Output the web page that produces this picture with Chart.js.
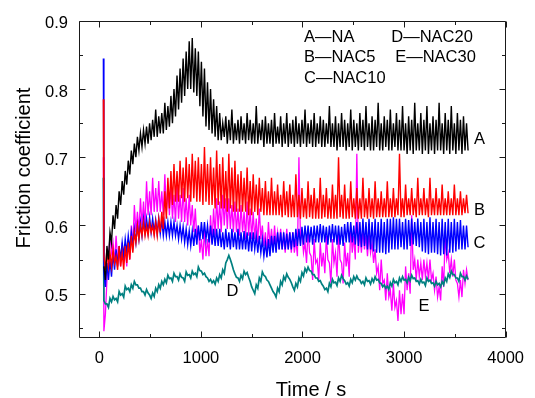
<!DOCTYPE html>
<html><head><meta charset="utf-8">
<script src="https://cdn.jsdelivr.net/npm/chart.js@4"></script>
<style>html,body{margin:0;padding:0;background:#fff}</style>
</head><body>
<canvas id="c" width="535" height="398"></canvas>
<script>
// ---- data ----
const SERIES_NAMES = ['A', 'B', 'C', 'D', 'E'];
const LEGEND_TEXT = ['A\u2014NA', 'B\u2014NAC5', 'C\u2014NAC10', 'D\u2014NAC20', 'E\u2014NAC30'];
const START_T = 40;
const START_PEAK = [null, 0.785, 0.845, 0.67, 0.70];
const TIME = [
 45,60,75,90,105,120,135,150,165,180,195,210,225,240,255,270,285,300,315,330,
 345,360,375,390,405,420,435,450,465,480,495,510,525,540,555,570,585,600,615,630,
 645,660,675,690,705,720,735,750,765,780,795,810,825,840,855,870,885,900,915,930,
 945,960,975,990,1005,1020,1035,1050,1065,1080,1095,1110,1125,1140,1155,1170,1185,1200,1215,1230,
 1245,1260,1275,1290,1305,1320,1335,1350,1365,1380,1395,1410,1425,1440,1455,1470,1485,1500,1515,1530,
 1545,1560,1575,1590,1605,1620,1635,1650,1665,1680,1695,1710,1725,1740,1755,1770,1785,1800,1815,1830,
 1845,1860,1875,1890,1905,1920,1935,1950,1965,1980,1995,2010,2025,2040,2055,2070,2085,2100,2115,2130,
 2145,2160,2175,2190,2205,2220,2235,2250,2265,2280,2295,2310,2325,2340,2355,2370,2385,2400,2415,2430,
 2445,2460,2475,2490,2505,2520,2535,2550,2565,2580,2595,2610,2625,2640,2655,2670,2685,2700,2715,2730,
 2745,2760,2775,2790,2805,2820,2835,2850,2865,2880,2895,2910,2925,2940,2955,2970,2985,3000,3015,3030,
 3045,3060,3075,3090,3105,3120,3135,3150,3165,3180,3195,3210,3225,3240,3255,3270,3285,3300,3315,3330,
 3345,3360,3375,3390,3405,3420,3435,3450,3465,3480,3495,3510,3525,3540,3555,3570,3585,3600,3615,3630];
const A_NA = [
 0.54,0.52,0.57,0.55,0.59,0.575,0.615,0.595,0.63,0.61,0.65,0.63,0.665,0.645,0.68,0.66,0.695,0.675,0.71,0.69,
 0.72,0.70,0.73,0.71,0.735,0.715,0.74,0.72,0.745,0.72,0.75,0.725,0.755,0.73,0.77,0.73,0.76,0.735,0.765,0.735,
 0.78,0.74,0.775,0.745,0.79,0.75,0.80,0.76,0.82,0.77,0.83,0.78,0.845,0.79,0.855,0.80,0.87,0.80,0.875,0.795,
 0.86,0.79,0.855,0.775,0.84,0.76,0.83,0.745,0.81,0.74,0.80,0.735,0.785,0.73,0.775,0.725,0.765,0.725,0.75,0.73,
 0.76,0.72,0.755,0.725,0.77,0.72,0.75,0.725,0.755,0.72,0.76,0.725,0.75,0.72,0.765,0.725,0.755,0.72,0.75,0.72,
 0.775,0.72,0.75,0.725,0.755,0.715,0.76,0.72,0.75,0.72,0.755,0.715,0.765,0.72,0.745,0.72,0.76,0.715,0.75,0.72,
 0.765,0.715,0.75,0.72,0.755,0.715,0.76,0.72,0.75,0.715,0.755,0.72,0.77,0.715,0.75,0.72,0.755,0.715,0.765,0.715,
 0.75,0.72,0.76,0.715,0.755,0.715,0.75,0.72,0.775,0.715,0.75,0.715,0.76,0.71,0.75,0.715,0.765,0.715,0.755,0.71,
 0.75,0.715,0.77,0.71,0.755,0.715,0.75,0.71,0.765,0.715,0.755,0.71,0.775,0.715,0.75,0.71,0.76,0.71,0.755,0.715,
 0.78,0.71,0.75,0.71,0.76,0.715,0.755,0.71,0.77,0.71,0.75,0.715,0.765,0.71,0.755,0.71,0.775,0.71,0.75,0.705,
 0.76,0.71,0.755,0.705,0.78,0.71,0.75,0.71,0.765,0.705,0.755,0.71,0.775,0.705,0.75,0.71,0.76,0.705,0.755,0.71,
 0.78,0.71,0.75,0.705,0.765,0.71,0.755,0.705,0.775,0.71,0.75,0.705,0.765,0.71,0.755,0.705,0.76,0.71,0.75,0.71];
const B_NAC5 = [
 0.555,0.535,0.565,0.54,0.56,0.54,0.565,0.545,0.555,0.535,0.57,0.54,0.56,0.535,0.57,0.545,0.575,0.55,0.585,0.56,
 0.59,0.575,0.60,0.58,0.60,0.585,0.605,0.585,0.60,0.585,0.605,0.59,0.60,0.585,0.605,0.585,0.61,0.59,0.62,0.595,
 0.65,0.61,0.67,0.625,0.68,0.63,0.69,0.635,0.68,0.635,0.695,0.64,0.685,0.635,0.70,0.64,0.69,0.635,0.705,0.64,
 0.695,0.635,0.70,0.635,0.69,0.63,0.715,0.635,0.69,0.63,0.70,0.63,0.685,0.625,0.71,0.63,0.69,0.625,0.70,0.625,
 0.68,0.62,0.705,0.625,0.685,0.62,0.695,0.62,0.675,0.62,0.68,0.62,0.67,0.62,0.685,0.615,0.665,0.615,0.675,0.62,
 0.66,0.615,0.67,0.62,0.655,0.615,0.665,0.615,0.65,0.615,0.67,0.615,0.65,0.615,0.66,0.615,0.645,0.612,0.665,0.615,
 0.65,0.612,0.66,0.612,0.645,0.612,0.675,0.612,0.645,0.61,0.655,0.612,0.64,0.61,0.665,0.612,0.645,0.61,0.655,0.61,
 0.64,0.61,0.67,0.61,0.645,0.612,0.655,0.61,0.64,0.61,0.66,0.61,0.645,0.61,0.70,0.612,0.645,0.61,0.66,0.61,
 0.64,0.61,0.665,0.612,0.64,0.61,0.655,0.61,0.64,0.61,0.67,0.612,0.64,0.61,0.655,0.612,0.64,0.61,0.665,0.612,
 0.64,0.612,0.65,0.612,0.64,0.612,0.665,0.612,0.64,0.612,0.655,0.612,0.64,0.615,0.705,0.612,0.64,0.612,0.66,0.615,
 0.64,0.615,0.655,0.615,0.64,0.612,0.67,0.615,0.64,0.615,0.655,0.615,0.64,0.612,0.67,0.615,0.64,0.615,0.655,0.615,
 0.64,0.615,0.66,0.615,0.64,0.615,0.65,0.615,0.64,0.615,0.66,0.615,0.64,0.615,0.65,0.615,0.64,0.618,0.645,0.618];
const C_NAC10 = [
 0.53,0.51,0.545,0.52,0.55,0.525,0.56,0.535,0.565,0.54,0.57,0.55,0.575,0.555,0.58,0.56,0.585,0.565,0.59,0.57,
 0.595,0.575,0.60,0.58,0.605,0.585,0.61,0.59,0.61,0.59,0.612,0.59,0.61,0.59,0.608,0.588,0.61,0.588,0.608,0.585,
 0.605,0.585,0.605,0.585,0.605,0.585,0.605,0.585,0.60,0.58,0.60,0.58,0.598,0.575,0.595,0.572,0.592,0.57,0.592,0.57,
 0.595,0.572,0.60,0.578,0.605,0.58,0.605,0.58,0.60,0.575,0.60,0.572,0.595,0.57,0.595,0.57,0.595,0.568,0.59,0.565,
 0.595,0.568,0.59,0.565,0.595,0.568,0.59,0.565,0.595,0.565,0.59,0.565,0.592,0.565,0.59,0.562,0.59,0.562,0.59,0.565,
 0.585,0.56,0.585,0.56,0.58,0.555,0.575,0.553,0.58,0.555,0.585,0.56,0.585,0.56,0.59,0.565,0.59,0.565,0.59,0.565,
 0.588,0.565,0.59,0.565,0.59,0.568,0.595,0.57,0.595,0.57,0.598,0.572,0.60,0.575,0.60,0.575,0.598,0.572,0.60,0.575,
 0.60,0.575,0.602,0.575,0.60,0.575,0.598,0.572,0.60,0.575,0.602,0.575,0.60,0.572,0.60,0.572,0.598,0.57,0.602,0.575,
 0.605,0.575,0.605,0.575,0.60,0.572,0.605,0.57,0.605,0.568,0.61,0.57,0.605,0.565,0.61,0.565,0.605,0.562,0.61,0.56,
 0.605,0.56,0.61,0.56,0.605,0.558,0.61,0.56,0.61,0.565,0.612,0.565,0.61,0.565,0.61,0.568,0.605,0.565,0.61,0.565,
 0.608,0.57,0.61,0.572,0.605,0.57,0.61,0.568,0.605,0.562,0.61,0.56,0.605,0.558,0.612,0.56,0.605,0.56,0.61,0.558,
 0.605,0.556,0.61,0.558,0.605,0.556,0.61,0.56,0.605,0.56,0.61,0.562,0.605,0.565,0.608,0.565,0.60,0.565,0.60,0.568];
const D_NAC20 = [
 0.49,0.485,0.485,0.48,0.493,0.488,0.496,0.491,0.493,0.488,0.503,0.498,0.50,0.495,0.511,0.506,0.508,0.503,0.513,0.508,
 0.518,0.513,0.513,0.508,0.508,0.503,0.503,0.498,0.506,0.501,0.498,0.493,0.501,0.496,0.508,0.503,0.513,0.508,0.518,0.513,
 0.521,0.516,0.527,0.522,0.523,0.518,0.53,0.525,0.525,0.52,0.529,0.524,0.523,0.518,0.532,0.527,0.528,0.523,0.533,0.528,
 0.53,0.525,0.539,0.534,0.533,0.528,0.53,0.525,0.523,0.518,0.521,0.516,0.519,0.514,0.523,0.518,0.528,0.523,0.535,0.53,
 0.545,0.55,0.556,0.55,0.543,0.535,0.529,0.524,0.523,0.518,0.527,0.522,0.533,0.528,0.531,0.524,0.518,0.51,0.505,0.50,
 0.513,0.508,0.523,0.518,0.532,0.527,0.525,0.52,0.518,0.513,0.508,0.503,0.50,0.495,0.508,0.503,0.518,0.513,0.525,0.52,
 0.529,0.524,0.521,0.516,0.51,0.505,0.515,0.51,0.523,0.518,0.531,0.526,0.537,0.532,0.539,0.534,0.533,0.528,0.528,0.523,
 0.523,0.518,0.519,0.514,0.511,0.506,0.508,0.503,0.515,0.51,0.521,0.516,0.517,0.512,0.523,0.518,0.527,0.522,0.519,0.514,
 0.516,0.511,0.521,0.516,0.525,0.52,0.526,0.521,0.52,0.515,0.518,0.513,0.523,0.518,0.519,0.514,0.522,0.517,0.525,0.52,
 0.521,0.516,0.515,0.51,0.513,0.508,0.511,0.506,0.516,0.511,0.521,0.516,0.518,0.513,0.523,0.518,0.525,0.52,0.521,0.516,
 0.524,0.519,0.527,0.522,0.523,0.518,0.519,0.514,0.521,0.516,0.517,0.512,0.523,0.518,0.52,0.515,0.516,0.511,0.518,0.513,
 0.515,0.51,0.518,0.513,0.523,0.518,0.529,0.524,0.533,0.528,0.528,0.523,0.523,0.518,0.53,0.525,0.525,0.52,0.526,0.521];
const E_NAC30 = [
 0.445,0.47,0.52,0.55,0.585,0.56,0.575,0.545,0.585,0.55,0.56,0.54,0.575,0.545,0.565,0.54,0.58,0.55,0.60,0.57,
 0.63,0.59,0.62,0.59,0.64,0.60,0.635,0.60,0.665,0.615,0.65,0.615,0.67,0.62,0.655,0.62,0.665,0.62,0.65,0.615,
 0.675,0.62,0.655,0.615,0.66,0.61,0.645,0.605,0.66,0.61,0.645,0.605,0.655,0.605,0.64,0.60,0.645,0.60,0.63,0.59,
 0.625,0.58,0.60,0.56,0.58,0.55,0.595,0.555,0.58,0.555,0.615,0.575,0.625,0.585,0.64,0.595,0.635,0.59,0.645,0.60,
 0.64,0.595,0.64,0.595,0.63,0.59,0.635,0.59,0.625,0.585,0.63,0.59,0.62,0.58,0.635,0.585,0.625,0.58,0.62,0.58,
 0.61,0.575,0.625,0.58,0.60,0.57,0.59,0.56,0.605,0.57,0.595,0.565,0.60,0.57,0.59,0.565,0.595,0.565,0.585,0.56,
 0.595,0.565,0.59,0.56,0.59,0.56,0.58,0.555,0.70,0.58,0.59,0.56,0.575,0.545,0.595,0.56,0.555,0.52,0.58,0.545,
 0.55,0.52,0.575,0.54,0.56,0.53,0.585,0.55,0.545,0.515,0.58,0.545,0.56,0.525,0.59,0.55,0.545,0.515,0.575,0.54,
 0.56,0.525,0.60,0.56,0.585,0.55,0.705,0.56,0.59,0.56,0.595,0.565,0.585,0.555,0.59,0.56,0.575,0.545,0.565,0.53,
 0.54,0.505,0.55,0.515,0.52,0.49,0.53,0.495,0.505,0.475,0.515,0.48,0.49,0.46,0.505,0.47,0.50,0.47,0.54,0.505,
 0.53,0.50,0.615,0.535,0.55,0.52,0.55,0.525,0.545,0.52,0.55,0.525,0.545,0.52,0.55,0.52,0.53,0.505,0.525,0.495,
 0.51,0.49,0.54,0.51,0.59,0.55,0.56,0.53,0.55,0.525,0.55,0.52,0.515,0.495,0.52,0.495,0.535,0.515,0.535,0.52];
const SERIES_VALUES = [A_NA, B_NAC5, C_NAC10, D_NAC20, E_NAC30];
const X_MAJOR = [0, 1000, 2000, 3000, 4000];
const X_MINOR = [500, 1500, 2500, 3500];
const Y_MAJOR = [0.5, 0.6, 0.7, 0.8, 0.9];
const Y_MINOR = [0.45, 0.55, 0.65, 0.75, 0.85];

// ---- styling / annotation placement ----
const COLORS = ['#000000', '#ff0000', '#0000ff', '#008080', '#ff00ff'];
const WIDTHS = [1.4, 1.4, 1.4, 1.7, 1.3];
const CURVE_LABEL_POS = [[3742, 0.7255], [3742, 0.6226], [3742, 0.5737], [1311, 0.503], [3197, 0.481]];
const LEGEND_POS = [[2015, 0.875], [2015, 0.846], [2015, 0.816], [2874, 0.875], [2912, 0.846]];
const FONT = '"Liberation Sans", Arial, Helvetica, sans-serif';

const datasets = SERIES_VALUES.map((vals, i) => {
  const pts = [];
  if (START_PEAK[i] !== null) pts.push({x: START_T, y: START_PEAK[i]});
  TIME.forEach((t, k) => { if (vals[k] !== undefined) pts.push({x: t, y: vals[k]}); });
  return {label: LEGEND_TEXT[i], data: pts, borderColor: COLORS[i], borderWidth: WIDTHS[i],
          pointRadius: 0, tension: 0, fill: false, borderJoinStyle: 'miter'};
});

const framePlugin = {
  id: 'frame',
  afterDatasetsDraw(chart) {
    const {ctx, chartArea: a, scales: {x, y}} = chart;
    ctx.save();
    ctx.strokeStyle = '#1a1a1a';
    ctx.lineWidth = 1;
    const L = Math.round(a.left) + 0.5, R = Math.round(a.right) - 0.5;
    const T = Math.round(a.top) + 0.5, B = Math.round(a.bottom) - 0.5;
    ctx.beginPath();
    ctx.rect(L, T, R - L, B - T);
    const xt = (vals, len) => vals.forEach(v => {
      const p = Math.round(x.getPixelForValue(v)) + 0.5;
      ctx.moveTo(p, B); ctx.lineTo(p, B - len);
      ctx.moveTo(p, T); ctx.lineTo(p, T + len);
    });
    const yt = (vals, len) => vals.forEach(v => {
      const p = Math.round(y.getPixelForValue(v)) + 0.5;
      ctx.moveTo(L, p); ctx.lineTo(L + len, p);
      ctx.moveTo(R, p); ctx.lineTo(R - len, p);
    });
    xt(X_MAJOR, 6); xt(X_MINOR, 3.5); yt(Y_MAJOR, 6); yt(Y_MINOR, 3.5);
    ctx.stroke();

    ctx.fillStyle = '#000';
    ctx.font = '16.5px ' + FONT;
    ctx.textBaseline = 'middle';
    ctx.textAlign = 'left';
    LEGEND_TEXT.forEach((s, i) => {
      ctx.fillText(s, x.getPixelForValue(LEGEND_POS[i][0]), y.getPixelForValue(LEGEND_POS[i][1]));
    });
    ctx.textAlign = 'center';
    SERIES_NAMES.forEach((s, i) => {
      ctx.fillText(s, x.getPixelForValue(CURVE_LABEL_POS[i][0]), y.getPixelForValue(CURVE_LABEL_POS[i][1]));
    });

    ctx.font = '20px ' + FONT;
    ctx.textBaseline = 'alphabetic';
    ctx.fillText('Time / s', 311, 396);
    ctx.translate(30, 168);
    ctx.rotate(-Math.PI / 2);
    ctx.fillText('Friction coefficient', 0, 0);
    ctx.restore();
  }
};

new Chart(document.getElementById('c'), {
  type: 'line',
  data: {datasets},
  plugins: [framePlugin],
  options: {
    responsive: false,
    animation: false,
    events: [],
    layout: {padding: {top: 19, right: 20, bottom: 0, left: 0}},
    plugins: {legend: {display: false}, tooltip: {enabled: false}},
    scales: {
      x: {
        type: 'linear', min: -200, max: 4000,
        afterBuildTicks: s => { s.ticks = X_MAJOR.map(v => ({value: v})); },
        afterFit: s => { s.height = 60; },
        grid: {display: false, drawTicks: false},
        border: {display: false},
        ticks: {color: '#000', font: {size: 16.5, family: FONT}, padding: 11, maxRotation: 0,
                callback: v => String(v)}
      },
      y: {
        type: 'linear', min: 0.435, max: 0.9,
        afterBuildTicks: s => { s.ticks = Y_MAJOR.map(v => ({value: v})); },
        afterFit: s => { s.width = 79; },
        grid: {display: false, drawTicks: false},
        border: {display: false},
        ticks: {color: '#000', font: {size: 16.5, family: FONT}, padding: 11, labelOffset: 3,
                callback: v => v.toFixed(1)}
      }
    }
  }
});
</script>
</body></html>
